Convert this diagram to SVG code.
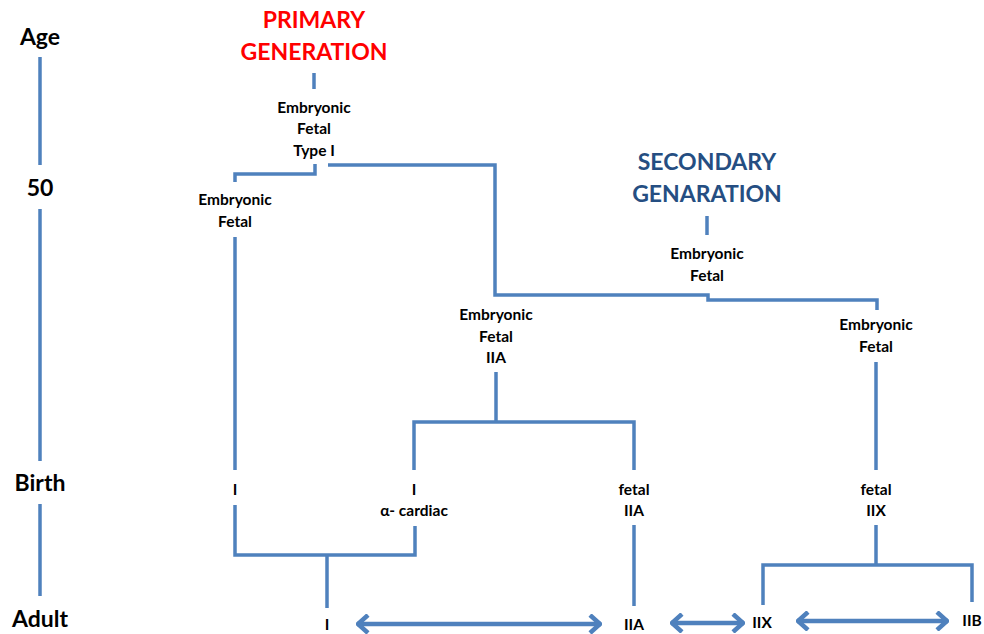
<svg xmlns="http://www.w3.org/2000/svg" width="984" height="634" viewBox="0 0 984 634">
<defs>
<style>
.t{font-family:Lato,"Liberation Sans",sans-serif;font-weight:bold;font-size:15.5px;fill:#000;text-anchor:middle}
.ax{font-family:Lato,"Liberation Sans",sans-serif;font-weight:bold;font-size:23px;fill:#000;text-anchor:middle}
.h{font-family:Lato,"Liberation Sans",sans-serif;font-weight:bold;font-size:23px;text-anchor:middle}
.ln{fill:none;stroke:#4F81BD;stroke-width:3.5;stroke-linejoin:miter}
.ar{fill:none;stroke:#4F81BD;stroke-width:4.5}
</style>
<marker id="ah" viewBox="0 0 14 20" refX="13" refY="10" markerWidth="14" markerHeight="20" markerUnits="userSpaceOnUse" orient="auto-start-reverse">
<path d="M2,1 L12,10 L2,19" fill="none" stroke="#4F81BD" stroke-width="4.5"/>
</marker>
</defs>
<rect width="984" height="634" fill="#fff"/>
<g id="axis">
<text class="ax" x="40" y="45">Age</text>
<text class="ax" x="40" y="196">50</text>
<text class="ax" x="40" y="491">Birth</text>
<text class="ax" x="40" y="627">Adult</text>
<path class="ln" d="M40,57V165M40,209V461M40,504V596"/>
</g>
<g id="primary-title">
<text class="h" x="314" y="28" fill="#FF0000">PRIMARY</text>
<text class="h" x="314" y="60" fill="#FF0000">GENERATION</text>
</g>
<g id="secondary-title">
<text class="h" x="707" y="170" fill="#254E82">SECONDARY</text>
<text class="h" x="707" y="202" fill="#254E82">GENARATION</text>
</g>
<g id="n-primary">
<text class="t" x="314" y="113">Embryonic</text>
<text class="t" x="314" y="134">Fetal</text>
<text class="t" x="314" y="156">Type I</text>
</g>
<g id="n-left">
<text class="t" x="235" y="205">Embryonic</text>
<text class="t" x="235" y="227">Fetal</text>
</g>
<g id="n-secondary">
<text class="t" x="707" y="259">Embryonic</text>
<text class="t" x="707" y="281">Fetal</text>
</g>
<g id="n-iia">
<text class="t" x="496" y="320">Embryonic</text>
<text class="t" x="496" y="342">Fetal</text>
<text class="t" x="496" y="363">IIA</text>
</g>
<g id="n-right">
<text class="t" x="876" y="330">Embryonic</text>
<text class="t" x="876" y="352">Fetal</text>
</g>
<g id="b-i">
<text class="t" x="235" y="495">I</text>
</g>
<g id="b-cardiac">
<text class="t" x="414" y="495">I</text>
<text class="t" x="414" y="516">α- cardiac</text>
</g>
<g id="b-fetal-iia">
<text class="t" x="634" y="495">fetal</text>
<text class="t" x="634" y="516">IIA</text>
</g>
<g id="b-fetal-iix">
<text class="t" x="876" y="495">fetal</text>
<text class="t" x="876" y="516">IIX</text>
</g>
<g id="a-i"><text class="t" x="327" y="630">I</text></g>
<g id="a-iia"><text class="t" x="634" y="630">IIA</text></g>
<g id="a-iix"><text class="t" x="762" y="628">IIX</text></g>
<g id="a-iib"><text class="t" x="972" y="626">IIB</text></g>
<g id="connectors">
<path class="ln" d="M314,73V89"/>
<path class="ln" d="M707,216V235"/>
<path class="ln" d="M315,164V174H235V182"/>
<path class="ln" d="M328,165H495V295H708V300H877V310"/>
<path class="ln" d="M235,237V470"/>
<path class="ln" d="M496,372V422"/>
<path class="ln" d="M414,470V422H634V470"/>
<path class="ln" d="M876,362V470"/>
<path class="ln" d="M235,505V555H415V526"/>
<path class="ln" d="M327,555V608"/>
<path class="ln" d="M634,525V606"/>
<path class="ln" d="M876,525V565"/>
<path class="ln" d="M763,605V565H972V602"/>
<path class="ar" d="M357,624H601" marker-start="url(#ah)" marker-end="url(#ah)"/>
<path class="ar" d="M671,623H744" marker-start="url(#ah)" marker-end="url(#ah)"/>
<path class="ar" d="M797,621H948" marker-start="url(#ah)" marker-end="url(#ah)"/>
</g>
</svg>
